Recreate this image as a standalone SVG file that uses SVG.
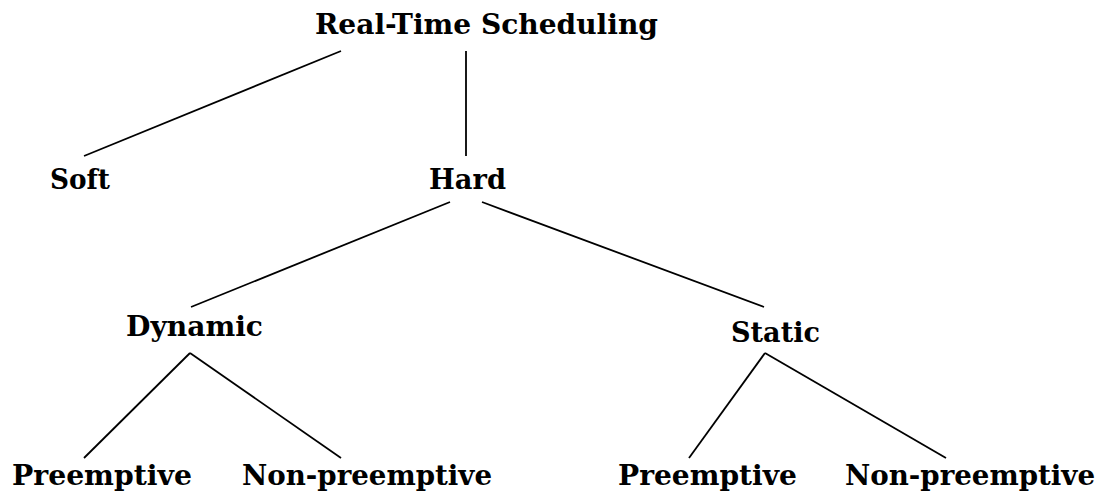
<svg xmlns="http://www.w3.org/2000/svg" width="1099" height="494" viewBox="0 0 1099 494">
<style>
text{font-family:"DejaVu Serif","Liberation Serif",serif;font-weight:bold;font-size:28px;fill:#000}
.e{stroke:#000;stroke-width:1.8;fill:none;stroke-linecap:butt}
</style>
<rect width="1099" height="494" fill="#fff"/>
<g id="connectors">
<line class="e" x1="341" y1="51" x2="84" y2="156"/>
<line class="e" x1="466" y1="51" x2="466" y2="156"/>
<line class="e" x1="450" y1="202" x2="191" y2="307"/>
<line class="e" x1="482" y1="202" x2="764" y2="307"/>
<line class="e" x1="190" y1="353" x2="84" y2="458"/>
<line class="e" x1="190" y1="353" x2="341" y2="458"/>
<line class="e" x1="765" y1="353" x2="689" y2="458"/>
<line class="e" x1="765" y1="353" x2="946" y2="458"/>
</g>
<g id="root"><text x="315" y="34" textLength="343" lengthAdjust="spacingAndGlyphs">Real-Time Scheduling</text></g>
<g id="soft"><text x="50" y="189" textLength="60" lengthAdjust="spacingAndGlyphs">Soft</text></g>
<g id="hard"><text x="429" y="189" textLength="77" lengthAdjust="spacingAndGlyphs">Hard</text></g>
<g id="dynamic"><text x="126" y="336" textLength="137" lengthAdjust="spacingAndGlyphs">Dynamic</text></g>
<g id="static"><text x="731" y="342" textLength="89" lengthAdjust="spacingAndGlyphs">Static</text></g>
<g id="dyn-preemptive"><text x="12" y="485" textLength="180" lengthAdjust="spacingAndGlyphs">Preemptive</text></g>
<g id="dyn-nonpreemptive"><text x="242" y="485" textLength="250" lengthAdjust="spacingAndGlyphs">Non-preemptive</text></g>
<g id="sta-preemptive"><text x="618" y="485" textLength="179" lengthAdjust="spacingAndGlyphs">Preemptive</text></g>
<g id="sta-nonpreemptive"><text x="845" y="485" textLength="250" lengthAdjust="spacingAndGlyphs">Non-preemptive</text></g>
</svg>
